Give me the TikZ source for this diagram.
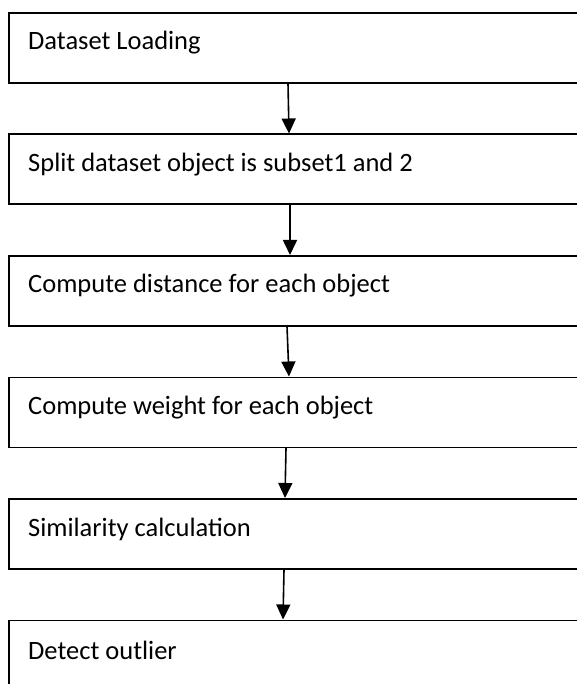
\documentclass[tikz,border=0pt]{standalone}
\usepackage{fontspec}
\setmainfont{Carlito}
\usetikzlibrary{arrows.meta,calc}
\begin{document}
\begin{tikzpicture}[x=1pt,y=1pt,
  stage/.style={draw=black, line width=1.6pt, minimum width=584pt,
    minimum height=70pt, anchor=north west, inner sep=0pt},
  stagetext/.style={anchor=west, inner sep=0pt, font=\fontsize{26.5}{30}\selectfont},
  flow/.style={line width=1.6pt, -{Triangle[length=15pt,width=14pt]}}]
\useasboundingbox (0,0) rectangle (577,-684);
\clip (0,0) rectangle (577,-684);

% process boxes (they run past the right and bottom edges)
\node[stage] (b1) at (8,-12)    {};
\node[stage] (b2) at (8,-133.5) {};
\node[stage] (b3) at (8,-255)   {};
\node[stage] (b4) at (8,-376.5) {};
\node[stage] (b5) at (8,-498)   {};
\node[stage] (b6) at (8,-619.5) {};

% box captions
\node[stagetext] (t1) at ($(b1.north west)+(20,-31)$) {Dataset Loading};
\node[stagetext] (t2) at ($(b2.north west)+(20,-31)$) {Split dataset object is subset1 and 2};
\node[stagetext] (t3) at ($(b3.north west)+(20,-31)$) {Compute distance for each object};
\node[stagetext] (t4) at ($(b4.north west)+(20,-31)$) {Compute weight for each object};
\node[stagetext] (t5) at ($(b5.north west)+(20,-31)$) {Similarity calculation};
\node[stagetext] (t6) at ($(b6.north west)+(20,-31)$) {Detect outlier};

% connectors
\draw[flow] ($(b1.south west)+(280,0)$) -- ($(b2.north west)+(281,0)$);
\draw[flow] ($(b2.south west)+(282,0)$) -- ($(b3.north west)+(282,0)$);
\draw[flow] ($(b3.south west)+(279,0)$) -- ($(b4.north west)+(281,0)$);
\draw[flow] ($(b4.south west)+(278,0)$) -- ($(b5.north west)+(277,0)$);
\draw[flow] ($(b5.south west)+(276,0)$) -- ($(b6.north west)+(275,0)$);
\end{tikzpicture}
\end{document}
